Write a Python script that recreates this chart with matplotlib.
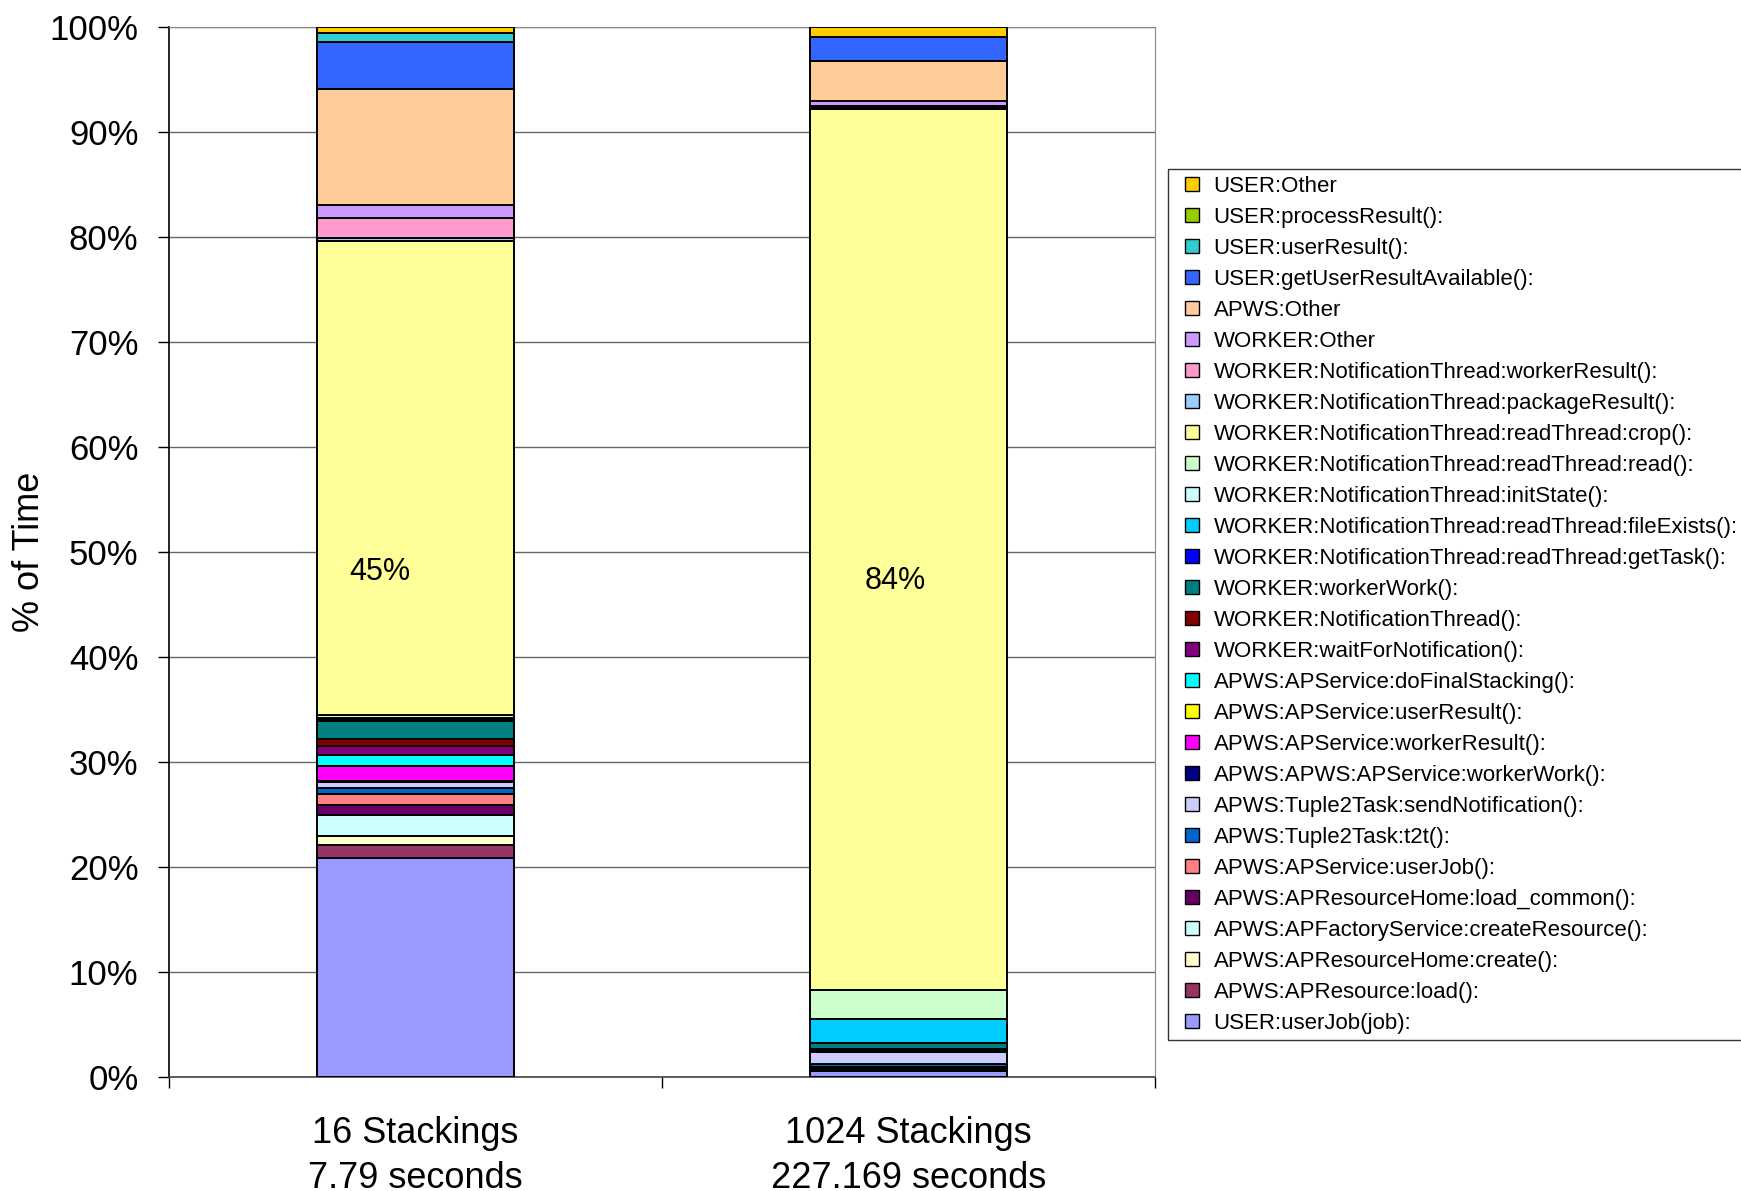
import numpy as np
import matplotlib
matplotlib.use('Agg')
import matplotlib.pyplot as plt
from matplotlib.lines import Line2D

plt.rcParams['font.family'] = ['Liberation Sans', 'DejaVu Sans']

# series in legend order (top of the stack first)
series = [
    'USER:Other',
    'USER:processResult():',
    'USER:userResult():',
    'USER:getUserResultAvailable():',
    'APWS:Other',
    'WORKER:Other',
    'WORKER:NotificationThread:workerResult():',
    'WORKER:NotificationThread:packageResult():',
    'WORKER:NotificationThread:readThread:crop():',
    'WORKER:NotificationThread:readThread:read():',
    'WORKER:NotificationThread:initState():',
    'WORKER:NotificationThread:readThread:fileExists():',
    'WORKER:NotificationThread:readThread:getTask():',
    'WORKER:workerWork():',
    'WORKER:NotificationThread():',
    'WORKER:waitForNotification():',
    'APWS:APService:doFinalStacking():',
    'APWS:APService:userResult():',
    'APWS:APService:workerResult():',
    'APWS:APWS:APService:workerWork():',
    'APWS:Tuple2Task:sendNotification():',
    'APWS:Tuple2Task:t2t():',
    'APWS:APService:userJob():',
    'APWS:APResourceHome:load_common():',
    'APWS:APFactoryService:createResource():',
    'APWS:APResourceHome:create():',
    'APWS:APResource:load():',
    'USER:userJob(job):',
]
colors = [
    '#FFCC00', '#99CC00', '#33CCCC', '#3366FF', '#FFCC99', '#CC99FF',
    '#FF99CC', '#99CCFF', '#FFFF99', '#CCFFCC', '#CCFFFF', '#00CCFF',
    '#0000FF', '#008080', '#800000', '#800080', '#00FFFF', '#FFFF00',
    '#FF00FF', '#000080', '#CCCCFF', '#0066CC', '#FF8080', '#660066',
    '#CCFFFF', '#FFFFCC', '#993366', '#9999FF',
]

runs = ['16 Stackings\n7.79 seconds', '1024 Stackings\n227.169 seconds']

# share of time (%) per series, same order as above
time_16 = [0.54, 0.0, 0.86, 4.48, 11.05, 1.27, 1.91, 0.25, 45.17, 0.25,
           0.10, 0.10, 0.10, 1.74, 0.70, 0.79, 1.11, 0.0, 1.37, 0.16,
           0.54, 0.54, 1.08, 0.98, 2.00, 0.86, 1.21, 20.84]
time_1024 = [0.95, 0.0, 0.0, 2.23, 3.82, 0.50, 0.16, 0.16, 83.89, 2.80,
             0.02, 2.22, 0.03, 0.54, 0.05, 0.10, 0.02, 0.0, 0.03, 0.12,
             1.17, 0.30, 0.05, 0.15, 0.05, 0.02, 0.05, 0.57]

data = np.array([time_16, time_1024]).T
pct = data / data.sum(axis=0) * 100

fig = plt.figure(figsize=(17.41, 11.91), dpi=100)
ax = fig.add_axes([0.0971, 0.0960, 0.5663, 0.8811])

x = np.arange(len(runs))
bottom = np.zeros(len(runs))
# stack from the bottom of the legend upward
for i in range(len(series) - 1, -1, -1):
    ax.bar(x, pct[i], 0.40, bottom=bottom, color=colors[i],
           edgecolor='black', linewidth=1.4, zorder=3)
    bottom += pct[i]

# label on the crop() segment
crop = series.index('WORKER:NotificationThread:readThread:crop():')
ax.text(x[0] - 0.073, 48.1, '%d%%' % round(pct[crop, 0]), fontsize=22,
        ha='center', va='center', zorder=4)
ax.text(x[1] - 0.026, 47.2, '%d%%' % round(pct[crop, 1]), fontsize=22,
        ha='center', va='center', zorder=4)

ax.set_xlim(-0.5, 1.5)
ax.set_ylim(0, 100)
ax.set_yticks(np.arange(0, 101, 10))
ax.set_yticklabels(['%d%%' % v for v in range(0, 101, 10)], fontsize=25)
ax.yaxis.grid(True, color='#666666', linewidth=1.0, zorder=0)
ax.tick_params(axis='y', direction='out', length=8, width=1, pad=14)

ax.set_xticks(x)
ax.set_xticklabels(runs, fontsize=26, linespacing=1.4)
ax.tick_params(axis='x', which='major', length=0, pad=28)
ax.set_xticks([-0.5, 0.5, 1.5], minor=True)
ax.tick_params(axis='x', which='minor', direction='out', length=8, width=1)

ax.set_ylabel('% of Time', fontsize=26)
ax.yaxis.set_label_coords(-0.124, 0.5)

ax.spines['left'].set_color('black')
ax.spines['left'].set_linewidth(1.2)
ax.spines['bottom'].set_color('#444444')
ax.spines['bottom'].set_linewidth(1.2)
ax.spines['top'].set_color('#888888')
ax.spines['right'].set_color('#888888')

handles = [Line2D([], [], linestyle='none', marker='s', markersize=9.5,
                  markerfacecolor=c, markeredgecolor='black',
                  markeredgewidth=1.0) for c in colors]
leg = fig.legend(handles, series, loc='upper left',
                 bbox_to_anchor=(1168 / 1741, 1 - 169 / 1191),
                 borderaxespad=0, fontsize=16, frameon=True, fancybox=False,
                 edgecolor='black', labelspacing=0.45, handlelength=1.6,
                 handletextpad=0.15, borderpad=0.3)
leg.get_frame().set_linewidth(1.0)

fig.savefig('out.png', dpi=100)
